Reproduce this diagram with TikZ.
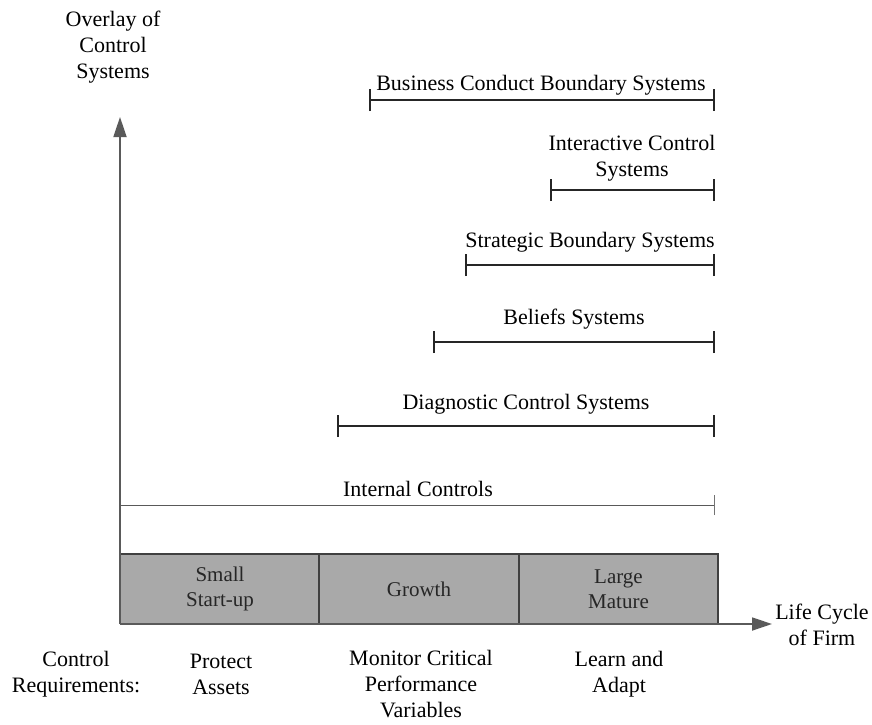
\documentclass[tikz,border=0pt]{standalone}
\usepackage{fontspec}
\setmainfont{Liberation Serif}
\usetikzlibrary{arrows.meta}
\definecolor{axisgray}{HTML}{5A5A5A}
\definecolor{boxgray}{HTML}{A9A9A9}
\begin{document}
\begin{tikzpicture}[x=1pt,y=-1pt,
  lbl/.style={font=\fontsize{22}{26}\selectfont, align=center, inner sep=0pt, text=black},
  span/.style={line width=1.8pt, black!85},
  tickbar/.style={line width=1.8pt, black!85},
  axis/.style={line width=1.8pt, axisgray, -{Triangle[length=20pt,width=13pt]}},
  stage/.style={draw=black!75, line width=1.2pt, fill=boxgray, minimum height=70pt, inner sep=0pt, font=\fontsize{21}{25}\selectfont, align=center, text=black!85}]
\useasboundingbox (0,0) rectangle (872,724);
% stage boxes
\node[stage, minimum width=199pt] (s1) at (220,589) {Small\\Start-up};
\node[stage, minimum width=200pt] (s2) at (419,589) {Growth};
\node[stage, minimum width=199pt] (s3) at (618.5,589) {Large\\Mature};
% axes
\coordinate (o) at (120,624);
\coordinate (ytop) at (120,117);
\coordinate (xend) at (772,624);
\draw[axis] (o) -- (ytop);
\draw[axis] (o) -- (xend);
% axis labels
\node[lbl] (ylab) at (113,47) {Overlay of\\Control\\Systems};
\node[lbl] (xlab) at (822,625) {Life Cycle\\of Firm};
% spans
\foreach \nm/\xa/\yy in {bc/370/100, ic/551/190, sb/466/265, be/434/342, dc/338/426}{
  \coordinate (\nm a) at (\xa,\yy);
  \coordinate (\nm b) at (714,\yy);
  \draw[span] (\nm a) -- (\nm b);
  \draw[tickbar] ([yshift=-11pt]\nm a) -- ([yshift=11pt]\nm a);
  \draw[tickbar] ([yshift=-11pt]\nm b) -- ([yshift=11pt]\nm b);
}
\node[lbl] (bct) at (541,85) {Business Conduct Boundary Systems};
\node[lbl] (ict) at (632,158) {Interactive Control\\Systems};
\node[lbl] (sbt) at (590,242) {Strategic Boundary Systems};
\node[lbl] (bet) at (574,319) {Beliefs Systems};
\node[lbl] (dct) at (526,404) {Diagnostic Control Systems};
% internal controls
\coordinate (ica) at (120,505);
\coordinate (icb) at (714,505);
\draw[line width=1pt, black!65] (ica) -- (icb);
\draw[line width=1pt, black!55] ([yshift=-10pt]icb) -- ([yshift=10pt]icb);
\node[lbl] (int) at (418,489) {Internal Controls};
% control requirements
\node[lbl] (cr) at (76,674) {Control\\Requirements:};
\node[lbl] (pa) at (221,674) {Protect\\Assets};
\node[lbl] (mc) at (421,684) {Monitor Critical\\Performance\\Variables};
\node[lbl] (la) at (619,674) {Learn and\\Adapt};
\end{tikzpicture}
\end{document}
